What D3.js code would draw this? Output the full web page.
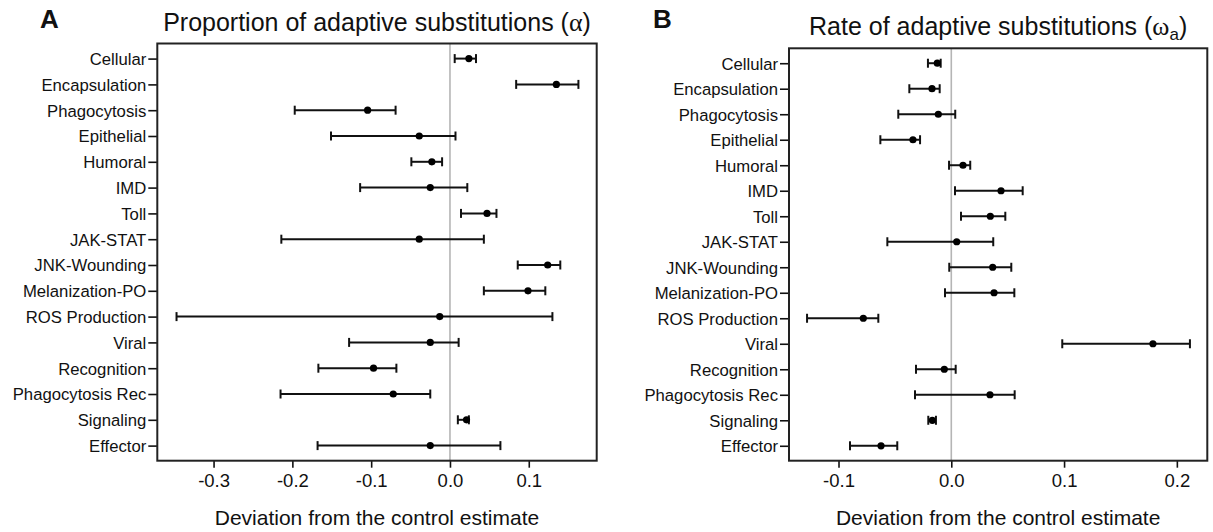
<!DOCTYPE html>
<html><head><meta charset="utf-8">
<script src="https://cdn.jsdelivr.net/npm/d3@7/dist/d3.min.js"></script>
<style>
body{margin:0;background:#fff;}
svg text{font-family:"Liberation Sans",Arial,sans-serif;fill:#111;}
</style></head>
<body><svg id="c" width="1213" height="532"></svg>
<script>
const categories = ["Cellular","Encapsulation","Phagocytosis","Epithelial","Humoral","IMD","Toll","JAK-STAT","JNK-Wounding","Melanization-PO","ROS Production","Viral","Recognition","Phagocytosis Rec","Signaling","Effector"];

// Panel A: proportion of adaptive substitutions (alpha)
const alphaEst = [0.024,0.135,-0.1045,-0.039,-0.023,-0.025,0.047,-0.039,0.124,0.099,-0.013,-0.025,-0.097,-0.072,0.021,-0.025];
const alphaLo  = [0.006,0.084,-0.197,-0.151,-0.049,-0.114,0.014,-0.214,0.086,0.043,-0.347,-0.128,-0.167,-0.215,0.010,-0.168];
const alphaHi  = [0.033,0.163,-0.069,0.007,-0.010,0.022,0.059,0.043,0.140,0.121,0.130,0.011,-0.068,-0.025,0.024,0.064];
const alphaTicks = [-0.3,-0.2,-0.1,0,0.1];
const alphaTickLabels = ["-0.3","-0.2","-0.1","0.0","0.1"];

// Panel B: rate of adaptive substitutions (omega_a)
const omegaEst = [-0.0124,-0.0171,-0.0115,-0.034,0.0104,0.0441,0.0346,0.0048,0.0367,0.0379,-0.078,0.1788,-0.0062,0.0343,-0.0168,-0.0623];
const omegaLo  = [-0.0207,-0.0372,-0.047,-0.0629,-0.002,0.0033,0.0086,-0.0567,-0.0018,-0.0056,-0.1279,0.0984,-0.0313,-0.0322,-0.0204,-0.0898];
const omegaHi  = [-0.0094,-0.0103,0.0035,-0.0277,0.0168,0.0633,0.0479,0.0372,0.0532,0.0559,-0.0647,0.2116,0.0039,0.0562,-0.0136,-0.0479];
const omegaTicks = [-0.1,0,0.1,0.2];
const omegaTickLabels = ["-0.1","0.0","0.1","0.2"];

const svg = d3.select("#c");

function panel(cfg){
  const g = svg.append("g");
  const x = d3.scaleLinear().domain(cfg.domain).range([cfg.left, cfg.right]);
  const y = d3.scalePoint().domain(categories).range([cfg.top, cfg.bottom]).padding(0.585);
  const data = categories.map((c,i)=>({c, est:cfg.est[i], lo:cfg.lo[i], hi:cfg.hi[i]}));

  // zero line
  g.append("line").attr("x1",x(0)).attr("x2",x(0)).attr("y1",cfg.top).attr("y2",cfg.bottom)
    .attr("stroke","#b5b5b5").attr("stroke-width",1.6);

  // y axis
  const ya = g.append("g").attr("transform",`translate(${cfg.left},0)`)
    .call(d3.axisLeft(y).tickSize(9).tickPadding(2));
  ya.select(".domain").remove();
  ya.selectAll(".tick line").attr("stroke","#111").attr("stroke-width",1.6);
  ya.selectAll(".tick text").style("font-size","16.7px").attr("dy","0.35em").attr("fill","#111");

  // x axis
  const xa = g.append("g").attr("transform",`translate(0,${cfg.bottom})`)
    .call(d3.axisBottom(x).tickValues(cfg.ticks).tickFormat((d,i)=>cfg.tickLabels[i]).tickSize(7).tickPadding(6));
  xa.select(".domain").remove();
  xa.selectAll(".tick line").attr("stroke","#111").attr("stroke-width",1.6);
  xa.selectAll(".tick text").style("font-size","18.5px").attr("fill","#111");

  // error bars
  const eb = g.append("g").selectAll("g").data(data).join("g");
  eb.append("line").attr("x1",d=>x(d.lo)).attr("x2",d=>x(d.hi)).attr("y1",d=>y(d.c)).attr("y2",d=>y(d.c))
    .attr("stroke","#111").attr("stroke-width",2);
  eb.append("line").attr("x1",d=>x(d.lo)).attr("x2",d=>x(d.lo)).attr("y1",d=>y(d.c)-4.5).attr("y2",d=>y(d.c)+4.5)
    .attr("stroke","#111").attr("stroke-width",2);
  eb.append("line").attr("x1",d=>x(d.hi)).attr("x2",d=>x(d.hi)).attr("y1",d=>y(d.c)-4.5).attr("y2",d=>y(d.c)+4.5)
    .attr("stroke","#111").attr("stroke-width",2);
  eb.append("circle").attr("cx",d=>x(d.est)).attr("cy",d=>y(d.c)).attr("r",3.6).attr("fill","#000");

  // frame
  g.append("rect").attr("x",cfg.left).attr("y",cfg.top).attr("width",cfg.right-cfg.left).attr("height",cfg.bottom-cfg.top)
    .attr("fill","none").attr("stroke","#222").attr("stroke-width",2);

  // axis title
  g.append("text").attr("x",(cfg.left+cfg.right)/2).attr("y",525).attr("text-anchor","middle")
    .style("font-size","21px").text("Deviation from the control estimate");

  // panel letter
  g.append("text").attr("x",cfg.letterX).attr("y",28).style("font-size","26px").style("font-weight","bold")
    .text(cfg.letter);

  // title
  const t = g.append("text").attr("x",(cfg.left+cfg.right)/2).attr("y",cfg.titleY).attr("text-anchor","middle")
    .style("font-size","25px");
  cfg.title(t);
}

panel({left:157.3,right:596.7,top:43.5,bottom:460.7,domain:[-0.3714,0.1862],
  est:alphaEst,lo:alphaLo,hi:alphaHi,ticks:alphaTicks,tickLabels:alphaTickLabels,letter:"A",letterX:40,titleY:30.5,
  title:t=>{t.append("tspan").text("Proportion of adaptive substitutions (");
            t.append("tspan").style("font-family","'Liberation Serif','DejaVu Serif',serif").style("font-size","26px").text("α");
            t.append("tspan").text(")");}});

panel({left:789,right:1207.3,top:48.3,bottom:460.7,domain:[-0.1439,0.2270],
  est:omegaEst,lo:omegaLo,hi:omegaHi,ticks:omegaTicks,tickLabels:omegaTickLabels,letter:"B",letterX:653,titleY:35,
  title:t=>{t.append("tspan").text("Rate of adaptive substitutions (");
            t.append("tspan").style("font-family","'Liberation Serif','DejaVu Serif',serif").style("font-size","26px").text("ω");
            t.append("tspan").attr("dy",5).style("font-size","17px").text("a");
            t.append("tspan").attr("dy",-5).text(")");}});
</script></body></html>
